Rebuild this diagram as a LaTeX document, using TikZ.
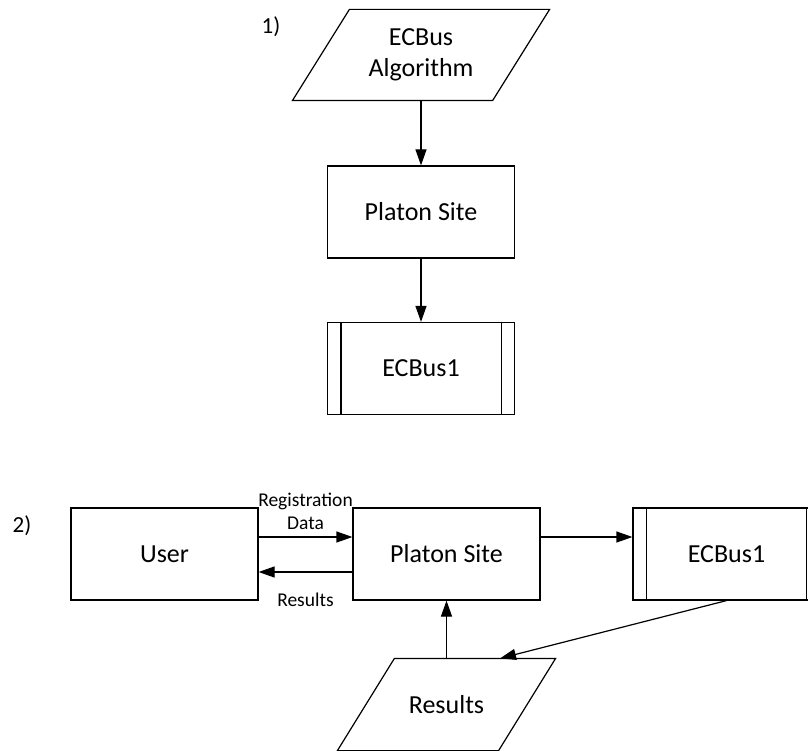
\documentclass[tikz,border=0pt]{standalone}
\usepackage{fontspec}
\setmainfont{Carlito}
\usetikzlibrary{arrows.meta,calc}
\begin{document}
\begin{tikzpicture}[x=1pt,y=-1pt,
  line width=1.2pt,
  box/.style={draw,rectangle,minimum width=187pt,minimum height=92pt,inner sep=0pt,font=\fontsize{26}{30}\selectfont},
  paracore/.style={rectangle,minimum width=199pt,minimum height=90pt,inner sep=0pt,align=center,font=\fontsize{26}{31}\selectfont},
  lbl/.style={font=\fontsize{19.5}{23}\selectfont,align=center,inner sep=0pt},
  num/.style={font=\fontsize{23}{26}\selectfont,inner sep=0pt},
  arr/.style={-{Triangle[length=16pt,width=11pt]}}
]
\useasboundingbox (0,0) rectangle (808,751);

% ---- part 1
\node[num] (n1) at (271,27) {1)};
\node[paracore] (alg) at (421,55) {ECBus\\Algorithm};
\draw ([xshift=28.5pt]alg.north west) -- ([xshift=28.5pt]alg.north east)
  -- ([xshift=-28.5pt]alg.south east) -- ([xshift=-28.5pt]alg.south west) -- cycle;
\node[box] (plat1) at (421,212) {Platon Site};
\node[box] (ecb1) at (421,368.5) {ECBus1};
\draw ([xshift=14pt]ecb1.north west) -- ([xshift=14pt]ecb1.south west);
\draw ([xshift=-14pt]ecb1.north east) -- ([xshift=-14pt]ecb1.south east);
\draw[arr] (alg.south) -- (plat1.north);
\draw[arr] (plat1.south) -- (ecb1.north);

% ---- part 2
\node[num] (n2) at (22,526) {2)};
\node[box] (user) at (164.5,554) {User};
\node[box] (plat2) at (446.5,554) {Platon Site};
\node[box] (ecb2) at (726.5,554) {ECBus1};
\draw ([xshift=14pt]ecb2.north west) -- ([xshift=14pt]ecb2.south west);
\draw ([xshift=-14pt]ecb2.north east) -- ([xshift=-14pt]ecb2.south east);
\node[paracore,minimum width=160pt,minimum height=91pt] (res) at (446.5,704.5) {Results};
\draw ([xshift=28.5pt]res.north west) -- ([xshift=28.5pt]res.north east)
  -- ([xshift=-28.5pt]res.south east) -- ([xshift=-28.5pt]res.south west) -- cycle;

\coordinate (ya) at (0,537);
\coordinate (yb) at (0,572);
\draw[arr] (user.east |- ya) -- (plat2.west |- ya);
\draw[arr] (plat2.west |- yb) -- (user.east |- yb);
\draw[arr] (plat2.east |- ya) -- (ecb2.west |- ya);
\coordinate (rtop) at ($(res.north)+(53.5,0)$);
\draw[arr] (ecb2.south) -- (rtop);
\draw[arr] (res.north) -- (plat2.south);

\node[lbl] (lreg) at (305.5,511.5) {Registration\\Data};
\node[lbl] (lres) at (305.5,600) {Results};
\end{tikzpicture}
\end{document}
